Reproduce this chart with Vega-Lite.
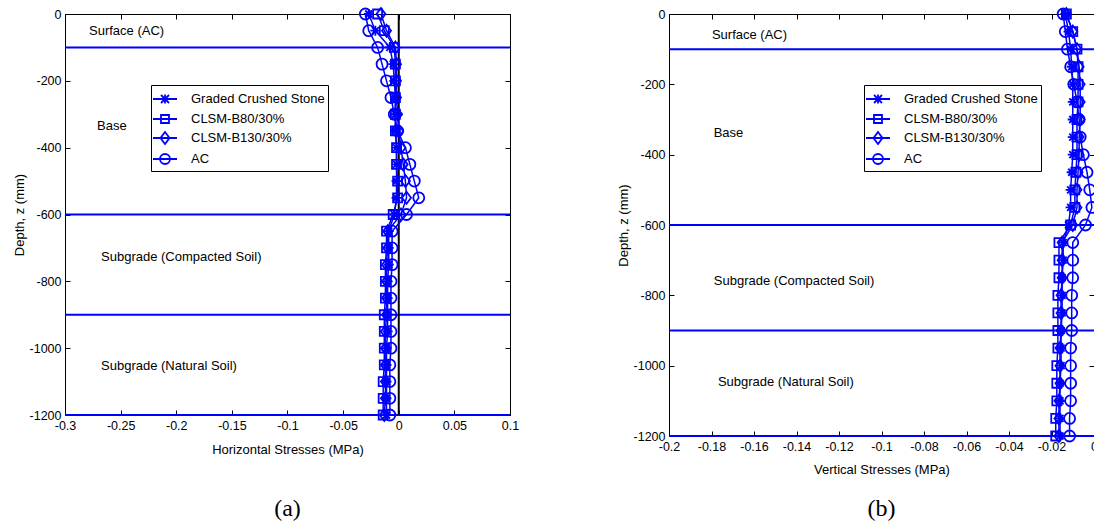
{
  "$schema": "https://vega.github.io/schema/vega-lite/v6.json",
  "padding": {"left": 12, "top": 3, "right": 0, "bottom": 0},
  "background": "white",
  "config": {
    "view": {"stroke": "black", "strokeWidth": 1},
    "font": "Liberation Sans",
    "axis": {"labelFont": "Liberation Sans", "labelFontSize": 12.5, "labelColor": "black", "titleFont": "Liberation Sans", "titleFontSize": 13, "titleFontWeight": "normal", "titleColor": "black", "tickColor": "black", "tickSize": -5, "tickWidth": 1, "grid": false, "domain": false, "labelFlush": false, "labelOverlap": false, "labelPadding": 9}
  },
  "datasets": {
    "h": [
      {"series": "Graded Crushed Stone", "depth": 0, "stress": -0.027},
      {"series": "Graded Crushed Stone", "depth": -50, "stress": -0.021},
      {"series": "Graded Crushed Stone", "depth": -100, "stress": -0.008},
      {"series": "Graded Crushed Stone", "depth": -150, "stress": -0.005},
      {"series": "Graded Crushed Stone", "depth": -200, "stress": -0.004},
      {"series": "Graded Crushed Stone", "depth": -250, "stress": -0.003},
      {"series": "Graded Crushed Stone", "depth": -300, "stress": -0.003},
      {"series": "Graded Crushed Stone", "depth": -350, "stress": -0.003},
      {"series": "Graded Crushed Stone", "depth": -400, "stress": -0.002},
      {"series": "Graded Crushed Stone", "depth": -450, "stress": -0.002},
      {"series": "Graded Crushed Stone", "depth": -500, "stress": -0.002},
      {"series": "Graded Crushed Stone", "depth": -550, "stress": -0.002},
      {"series": "Graded Crushed Stone", "depth": -600, "stress": -0.004},
      {"series": "Graded Crushed Stone", "depth": -650, "stress": -0.009},
      {"series": "Graded Crushed Stone", "depth": -700, "stress": -0.009},
      {"series": "Graded Crushed Stone", "depth": -750, "stress": -0.009},
      {"series": "Graded Crushed Stone", "depth": -800, "stress": -0.010},
      {"series": "Graded Crushed Stone", "depth": -850, "stress": -0.010},
      {"series": "Graded Crushed Stone", "depth": -900, "stress": -0.010},
      {"series": "Graded Crushed Stone", "depth": -950, "stress": -0.010},
      {"series": "Graded Crushed Stone", "depth": -1000, "stress": -0.011},
      {"series": "Graded Crushed Stone", "depth": -1050, "stress": -0.011},
      {"series": "Graded Crushed Stone", "depth": -1100, "stress": -0.011},
      {"series": "Graded Crushed Stone", "depth": -1150, "stress": -0.011},
      {"series": "Graded Crushed Stone", "depth": -1200, "stress": -0.011},
      {"series": "CLSM-B80/30%", "depth": 0, "stress": -0.019},
      {"series": "CLSM-B80/30%", "depth": -50, "stress": -0.013},
      {"series": "CLSM-B80/30%", "depth": -100, "stress": -0.004},
      {"series": "CLSM-B80/30%", "depth": -150, "stress": -0.003},
      {"series": "CLSM-B80/30%", "depth": -200, "stress": -0.003},
      {"series": "CLSM-B80/30%", "depth": -250, "stress": -0.003},
      {"series": "CLSM-B80/30%", "depth": -300, "stress": -0.003},
      {"series": "CLSM-B80/30%", "depth": -350, "stress": -0.003},
      {"series": "CLSM-B80/30%", "depth": -400, "stress": -0.002},
      {"series": "CLSM-B80/30%", "depth": -450, "stress": -0.002},
      {"series": "CLSM-B80/30%", "depth": -500, "stress": -0.001},
      {"series": "CLSM-B80/30%", "depth": -550, "stress": -0.001},
      {"series": "CLSM-B80/30%", "depth": -600, "stress": -0.005},
      {"series": "CLSM-B80/30%", "depth": -650, "stress": -0.011},
      {"series": "CLSM-B80/30%", "depth": -700, "stress": -0.011},
      {"series": "CLSM-B80/30%", "depth": -750, "stress": -0.012},
      {"series": "CLSM-B80/30%", "depth": -800, "stress": -0.012},
      {"series": "CLSM-B80/30%", "depth": -850, "stress": -0.012},
      {"series": "CLSM-B80/30%", "depth": -900, "stress": -0.013},
      {"series": "CLSM-B80/30%", "depth": -950, "stress": -0.013},
      {"series": "CLSM-B80/30%", "depth": -1000, "stress": -0.013},
      {"series": "CLSM-B80/30%", "depth": -1050, "stress": -0.013},
      {"series": "CLSM-B80/30%", "depth": -1100, "stress": -0.014},
      {"series": "CLSM-B80/30%", "depth": -1150, "stress": -0.014},
      {"series": "CLSM-B80/30%", "depth": -1200, "stress": -0.014},
      {"series": "CLSM-B130/30%", "depth": 0, "stress": -0.016},
      {"series": "CLSM-B130/30%", "depth": -50, "stress": -0.011},
      {"series": "CLSM-B130/30%", "depth": -100, "stress": -0.003},
      {"series": "CLSM-B130/30%", "depth": -150, "stress": -0.002},
      {"series": "CLSM-B130/30%", "depth": -200, "stress": -0.002},
      {"series": "CLSM-B130/30%", "depth": -250, "stress": -0.002},
      {"series": "CLSM-B130/30%", "depth": -300, "stress": -0.001},
      {"series": "CLSM-B130/30%", "depth": -350, "stress": 0.000},
      {"series": "CLSM-B130/30%", "depth": -400, "stress": 0.002},
      {"series": "CLSM-B130/30%", "depth": -450, "stress": 0.004},
      {"series": "CLSM-B130/30%", "depth": -500, "stress": 0.006},
      {"series": "CLSM-B130/30%", "depth": -550, "stress": 0.007},
      {"series": "CLSM-B130/30%", "depth": -600, "stress": 0.002},
      {"series": "CLSM-B130/30%", "depth": -650, "stress": -0.010},
      {"series": "CLSM-B130/30%", "depth": -700, "stress": -0.010},
      {"series": "CLSM-B130/30%", "depth": -750, "stress": -0.011},
      {"series": "CLSM-B130/30%", "depth": -800, "stress": -0.011},
      {"series": "CLSM-B130/30%", "depth": -850, "stress": -0.011},
      {"series": "CLSM-B130/30%", "depth": -900, "stress": -0.011},
      {"series": "CLSM-B130/30%", "depth": -950, "stress": -0.012},
      {"series": "CLSM-B130/30%", "depth": -1000, "stress": -0.012},
      {"series": "CLSM-B130/30%", "depth": -1050, "stress": -0.012},
      {"series": "CLSM-B130/30%", "depth": -1100, "stress": -0.012},
      {"series": "CLSM-B130/30%", "depth": -1150, "stress": -0.012},
      {"series": "CLSM-B130/30%", "depth": -1200, "stress": -0.013},
      {"series": "AC", "depth": 0, "stress": -0.030},
      {"series": "AC", "depth": -50, "stress": -0.027},
      {"series": "AC", "depth": -100, "stress": -0.019},
      {"series": "AC", "depth": -150, "stress": -0.015},
      {"series": "AC", "depth": -200, "stress": -0.011},
      {"series": "AC", "depth": -250, "stress": -0.007},
      {"series": "AC", "depth": -300, "stress": -0.004},
      {"series": "AC", "depth": -350, "stress": -0.001},
      {"series": "AC", "depth": -400, "stress": 0.006},
      {"series": "AC", "depth": -450, "stress": 0.010},
      {"series": "AC", "depth": -500, "stress": 0.014},
      {"series": "AC", "depth": -550, "stress": 0.018},
      {"series": "AC", "depth": -600, "stress": 0.007},
      {"series": "AC", "depth": -650, "stress": -0.006},
      {"series": "AC", "depth": -700, "stress": -0.006},
      {"series": "AC", "depth": -750, "stress": -0.006},
      {"series": "AC", "depth": -800, "stress": -0.007},
      {"series": "AC", "depth": -850, "stress": -0.007},
      {"series": "AC", "depth": -900, "stress": -0.007},
      {"series": "AC", "depth": -950, "stress": -0.007},
      {"series": "AC", "depth": -1000, "stress": -0.007},
      {"series": "AC", "depth": -1050, "stress": -0.008},
      {"series": "AC", "depth": -1100, "stress": -0.008},
      {"series": "AC", "depth": -1150, "stress": -0.008},
      {"series": "AC", "depth": -1200, "stress": -0.008}
    ],
    "v": [
      {"series": "Graded Crushed Stone", "depth": 0, "stress": -0.0135},
      {"series": "Graded Crushed Stone", "depth": -50, "stress": -0.012},
      {"series": "Graded Crushed Stone", "depth": -100, "stress": -0.011},
      {"series": "Graded Crushed Stone", "depth": -150, "stress": -0.0105},
      {"series": "Graded Crushed Stone", "depth": -200, "stress": -0.010},
      {"series": "Graded Crushed Stone", "depth": -250, "stress": -0.010},
      {"series": "Graded Crushed Stone", "depth": -300, "stress": -0.010},
      {"series": "Graded Crushed Stone", "depth": -350, "stress": -0.010},
      {"series": "Graded Crushed Stone", "depth": -400, "stress": -0.010},
      {"series": "Graded Crushed Stone", "depth": -450, "stress": -0.0105},
      {"series": "Graded Crushed Stone", "depth": -500, "stress": -0.011},
      {"series": "Graded Crushed Stone", "depth": -550, "stress": -0.011},
      {"series": "Graded Crushed Stone", "depth": -600, "stress": -0.012},
      {"series": "Graded Crushed Stone", "depth": -650, "stress": -0.0145},
      {"series": "Graded Crushed Stone", "depth": -700, "stress": -0.0145},
      {"series": "Graded Crushed Stone", "depth": -750, "stress": -0.015},
      {"series": "Graded Crushed Stone", "depth": -800, "stress": -0.015},
      {"series": "Graded Crushed Stone", "depth": -850, "stress": -0.015},
      {"series": "Graded Crushed Stone", "depth": -900, "stress": -0.0155},
      {"series": "Graded Crushed Stone", "depth": -950, "stress": -0.0155},
      {"series": "Graded Crushed Stone", "depth": -1000, "stress": -0.0155},
      {"series": "Graded Crushed Stone", "depth": -1050, "stress": -0.016},
      {"series": "Graded Crushed Stone", "depth": -1100, "stress": -0.016},
      {"series": "Graded Crushed Stone", "depth": -1150, "stress": -0.016},
      {"series": "Graded Crushed Stone", "depth": -1200, "stress": -0.016},
      {"series": "CLSM-B80/30%", "depth": 0, "stress": -0.013},
      {"series": "CLSM-B80/30%", "depth": -50, "stress": -0.010},
      {"series": "CLSM-B80/30%", "depth": -100, "stress": -0.008},
      {"series": "CLSM-B80/30%", "depth": -150, "stress": -0.0075},
      {"series": "CLSM-B80/30%", "depth": -200, "stress": -0.0075},
      {"series": "CLSM-B80/30%", "depth": -250, "stress": -0.0075},
      {"series": "CLSM-B80/30%", "depth": -300, "stress": -0.008},
      {"series": "CLSM-B80/30%", "depth": -350, "stress": -0.008},
      {"series": "CLSM-B80/30%", "depth": -400, "stress": -0.008},
      {"series": "CLSM-B80/30%", "depth": -450, "stress": -0.0085},
      {"series": "CLSM-B80/30%", "depth": -500, "stress": -0.009},
      {"series": "CLSM-B80/30%", "depth": -550, "stress": -0.009},
      {"series": "CLSM-B80/30%", "depth": -600, "stress": -0.011},
      {"series": "CLSM-B80/30%", "depth": -650, "stress": -0.0165},
      {"series": "CLSM-B80/30%", "depth": -700, "stress": -0.0165},
      {"series": "CLSM-B80/30%", "depth": -750, "stress": -0.0165},
      {"series": "CLSM-B80/30%", "depth": -800, "stress": -0.017},
      {"series": "CLSM-B80/30%", "depth": -850, "stress": -0.017},
      {"series": "CLSM-B80/30%", "depth": -900, "stress": -0.017},
      {"series": "CLSM-B80/30%", "depth": -950, "stress": -0.017},
      {"series": "CLSM-B80/30%", "depth": -1000, "stress": -0.0175},
      {"series": "CLSM-B80/30%", "depth": -1050, "stress": -0.0175},
      {"series": "CLSM-B80/30%", "depth": -1100, "stress": -0.0175},
      {"series": "CLSM-B80/30%", "depth": -1150, "stress": -0.018},
      {"series": "CLSM-B80/30%", "depth": -1200, "stress": -0.018},
      {"series": "CLSM-B130/30%", "depth": 0, "stress": -0.013},
      {"series": "CLSM-B130/30%", "depth": -50, "stress": -0.010},
      {"series": "CLSM-B130/30%", "depth": -100, "stress": -0.008},
      {"series": "CLSM-B130/30%", "depth": -150, "stress": -0.007},
      {"series": "CLSM-B130/30%", "depth": -200, "stress": -0.0065},
      {"series": "CLSM-B130/30%", "depth": -250, "stress": -0.0065},
      {"series": "CLSM-B130/30%", "depth": -300, "stress": -0.0065},
      {"series": "CLSM-B130/30%", "depth": -350, "stress": -0.007},
      {"series": "CLSM-B130/30%", "depth": -400, "stress": -0.007},
      {"series": "CLSM-B130/30%", "depth": -450, "stress": -0.0075},
      {"series": "CLSM-B130/30%", "depth": -500, "stress": -0.008},
      {"series": "CLSM-B130/30%", "depth": -550, "stress": -0.008},
      {"series": "CLSM-B130/30%", "depth": -600, "stress": -0.010},
      {"series": "CLSM-B130/30%", "depth": -650, "stress": -0.015},
      {"series": "CLSM-B130/30%", "depth": -700, "stress": -0.015},
      {"series": "CLSM-B130/30%", "depth": -750, "stress": -0.015},
      {"series": "CLSM-B130/30%", "depth": -800, "stress": -0.0155},
      {"series": "CLSM-B130/30%", "depth": -850, "stress": -0.0155},
      {"series": "CLSM-B130/30%", "depth": -900, "stress": -0.0155},
      {"series": "CLSM-B130/30%", "depth": -950, "stress": -0.016},
      {"series": "CLSM-B130/30%", "depth": -1000, "stress": -0.016},
      {"series": "CLSM-B130/30%", "depth": -1050, "stress": -0.016},
      {"series": "CLSM-B130/30%", "depth": -1100, "stress": -0.0165},
      {"series": "CLSM-B130/30%", "depth": -1150, "stress": -0.0165},
      {"series": "CLSM-B130/30%", "depth": -1200, "stress": -0.0165},
      {"series": "AC", "depth": 0, "stress": -0.0145},
      {"series": "AC", "depth": -50, "stress": -0.0135},
      {"series": "AC", "depth": -100, "stress": -0.0125},
      {"series": "AC", "depth": -150, "stress": -0.011},
      {"series": "AC", "depth": -200, "stress": -0.0095},
      {"series": "AC", "depth": -250, "stress": -0.008},
      {"series": "AC", "depth": -300, "stress": -0.007},
      {"series": "AC", "depth": -350, "stress": -0.0065},
      {"series": "AC", "depth": -400, "stress": -0.005},
      {"series": "AC", "depth": -450, "stress": -0.0033},
      {"series": "AC", "depth": -500, "stress": -0.002},
      {"series": "AC", "depth": -550, "stress": -0.001},
      {"series": "AC", "depth": -600, "stress": -0.004},
      {"series": "AC", "depth": -650, "stress": -0.010},
      {"series": "AC", "depth": -700, "stress": -0.010},
      {"series": "AC", "depth": -750, "stress": -0.010},
      {"series": "AC", "depth": -800, "stress": -0.0105},
      {"series": "AC", "depth": -850, "stress": -0.0105},
      {"series": "AC", "depth": -900, "stress": -0.0105},
      {"series": "AC", "depth": -950, "stress": -0.011},
      {"series": "AC", "depth": -1000, "stress": -0.011},
      {"series": "AC", "depth": -1050, "stress": -0.011},
      {"series": "AC", "depth": -1100, "stress": -0.011},
      {"series": "AC", "depth": -1150, "stress": -0.0115},
      {"series": "AC", "depth": -1200, "stress": -0.0115}
    ],
    "layers": [{"depth": -100}, {"depth": -600}, {"depth": -900}, {"depth": -1200}],
    "zero": [{"stress": 0}],
    "labelsH": [
      {"label": "Surface (AC)", "stress": -0.2784, "depth": -51},
      {"label": "Base", "stress": -0.2712, "depth": -335},
      {"label": "Subgrade (Compacted Soil)", "stress": -0.2676, "depth": -727},
      {"label": "Subgrade (Natural Soil)", "stress": -0.2676, "depth": -1052}
    ],
    "labelsV": [
      {"label": "Surface (AC)", "stress": -0.1798, "depth": -60},
      {"label": "Base", "stress": -0.179, "depth": -337},
      {"label": "Subgrade (Compacted Soil)", "stress": -0.1789, "depth": -759},
      {"label": "Subgrade (Natural Soil)", "stress": -0.177, "depth": -1046}
    ]
  },
  "spacing": 96,
  "resolve": {"scale": {"shape": "independent"}, "legend": {"shape": "independent"}},
  "hconcat": [
    {
      "width": 445,
      "height": 401,
      "title": {"text": "(a)", "orient": "bottom", "font": "Liberation Serif", "fontSize": 24, "fontWeight": "normal", "color": "black", "offset": 40},
      "resolve": {"scale": {"shape": "independent"}, "axis": {"x": "independent", "y": "independent"}},
      "layer": [
        {
          "data": {"name": "layers"},
          "mark": {"type": "rule", "color": "#0000ff", "strokeWidth": 2},
          "encoding": {"y": {"field": "depth", "type": "quantitative", "scale": {"domain": [-1200, 0], "nice": false, "zero": false}, "axis": null}}
        },
        {
          "data": {"name": "zero"},
          "mark": {"type": "rule", "color": "black", "strokeWidth": 2},
          "encoding": {"x": {"field": "stress", "type": "quantitative", "scale": {"domain": [-0.3, 0.1], "nice": false, "zero": false}, "axis": null}}
        },
        {
          "data": {"name": "labelsH"},
          "mark": {"type": "text", "align": "left", "baseline": "middle", "font": "Liberation Sans", "fontSize": 13, "color": "black"},
          "encoding": {
            "x": {"field": "stress", "type": "quantitative", "scale": {"domain": [-0.3, 0.1], "nice": false, "zero": false}, "axis": null},
            "y": {"field": "depth", "type": "quantitative", "scale": {"domain": [-1200, 0], "nice": false, "zero": false}, "axis": null},
            "text": {"field": "label"}
          }
        },
        {
          "data": {"name": "h"},
          "mark": {"type": "line", "color": "#0000ff", "strokeWidth": 1.5},
          "encoding": {
            "x": {"field": "stress", "type": "quantitative", "scale": {"domain": [-0.3, 0.1], "nice": false, "zero": false},
                  "axis": {"orient": "bottom", "values": [-0.3, -0.25, -0.2, -0.15, -0.1, -0.05, 0, 0.05, 0.1], "labelExpr": "toString(datum.value)", "title": "Horizontal Stresses (MPa)", "titlePadding": 12}},
            "y": {"field": "depth", "type": "quantitative", "scale": {"domain": [-1200, 0], "nice": false, "zero": false},
                  "axis": {"orient": "left", "values": [0, -200, -400, -600, -800, -1000, -1200], "labelExpr": "toString(datum.value)", "title": "Depth, z (mm)", "titlePadding": 3}},
            "detail": {"field": "series"},
            "order": {"field": "depth", "type": "quantitative", "sort": "descending"}
          }
        },
        {
          "data": {"name": "h"},
          "mark": {"type": "point", "filled": false, "color": "#0000ff", "strokeWidth": 1.8, "size": 100, "opacity": 1},
          "encoding": {
            "x": {"field": "stress", "type": "quantitative", "scale": {"domain": [-0.3, 0.1], "nice": false, "zero": false},
                  "axis": {"orient": "top", "values": [-0.3, -0.25, -0.2, -0.15, -0.1, -0.05, 0, 0.05, 0.1], "labels": false, "title": null}},
            "y": {"field": "depth", "type": "quantitative", "scale": {"domain": [-1200, 0], "nice": false, "zero": false},
                  "axis": {"orient": "right", "values": [0, -200, -400, -600, -800, -1000, -1200], "labels": false, "title": null}},
            "shape": {"field": "series", "type": "nominal",
                      "scale": {"domain": ["Graded Crushed Stone", "CLSM-B80/30%", "CLSM-B130/30%", "AC"],
                                "range": ["M-1,0H1M0,-1V1M-0.7,-0.7L0.7,0.7M-0.7,0.7L0.7,-0.7", "M-0.9,-0.9H0.9V0.9H-0.9Z", "M0,-1.2L0.9,0L0,1.2L-0.9,0Z", "M1.1,0A1.1,1.1 0 1,1 -1.1,0A1.1,1.1 0 1,1 1.1,0Z"]},
                      "legend": null}
          }
        },
        {
          "data": {"name": "h"},
          "mark": {"type": "point", "filled": false, "color": "#0000ff", "strokeWidth": 1.5, "opacity": 0},
          "encoding": {
            "x": {"field": "stress", "type": "quantitative", "scale": {"domain": [-0.3, 0.1], "nice": false, "zero": false}, "axis": null},
            "y": {"field": "depth", "type": "quantitative", "scale": {"domain": [-1200, 0], "nice": false, "zero": false}, "axis": null},
            "shape": {"field": "series", "type": "nominal",
                      "scale": {"domain": ["Graded Crushed Stone", "CLSM-B80/30%", "CLSM-B130/30%", "AC"],
                                "range": ["M-1.2,0H1.2M-0.4,-0.4L0.4,0.4M-0.4,0.4L0.4,-0.4M0,-0.45V0.45", "M-1.2,0H1.2M-0.4,-0.4H0.4V0.4H-0.4Z", "M-1.2,0H1.2M0,-0.6L0.45,0L0,0.6L-0.45,0Z", "M-1.2,0H1.2M0.5,0A0.5,0.5 0 1,1 -0.5,0A0.5,0.5 0 1,1 0.5,0Z"]},
                      "legend": {"title": null, "orient": "none", "legendX": 86, "legendY": 71, "symbolSize": 400, "symbolStrokeColor": "#0000ff", "symbolStrokeWidth": 1.8, "symbolOpacity": 1, "labelFont": "Liberation Sans", "labelFontSize": 13, "labelColor": "black", "labelOffset": 15, "rowPadding": 0, "padding": 3, "strokeColor": "black", "fillColor": "white"}}
          }
        }
      ]
    },
    {
      "width": 425,
      "height": 422,
      "title": {"text": "(b)", "orient": "bottom", "font": "Liberation Serif", "fontSize": 24, "fontWeight": "normal", "color": "black", "offset": 20},
      "resolve": {"scale": {"shape": "independent"}, "axis": {"x": "independent", "y": "independent"}},
      "layer": [
        {
          "data": {"name": "layers"},
          "mark": {"type": "rule", "color": "#0000ff", "strokeWidth": 2},
          "encoding": {"y": {"field": "depth", "type": "quantitative", "scale": {"domain": [-1200, 0], "nice": false, "zero": false}, "axis": null}}
        },
        {
          "data": {"name": "labelsV"},
          "mark": {"type": "text", "align": "left", "baseline": "middle", "font": "Liberation Sans", "fontSize": 13, "color": "black"},
          "encoding": {
            "x": {"field": "stress", "type": "quantitative", "scale": {"domain": [-0.2, 0], "nice": false, "zero": false}, "axis": null},
            "y": {"field": "depth", "type": "quantitative", "scale": {"domain": [-1200, 0], "nice": false, "zero": false}, "axis": null},
            "text": {"field": "label"}
          }
        },
        {
          "data": {"name": "v"},
          "mark": {"type": "line", "color": "#0000ff", "strokeWidth": 1.5},
          "encoding": {
            "x": {"field": "stress", "type": "quantitative", "scale": {"domain": [-0.2, 0], "nice": false, "zero": false},
                  "axis": {"orient": "bottom", "values": [-0.2, -0.18, -0.16, -0.14, -0.12, -0.1, -0.08, -0.06, -0.04, -0.02, 0], "labelExpr": "toString(datum.value)", "title": "Vertical Stresses (MPa)", "titlePadding": 11}},
            "y": {"field": "depth", "type": "quantitative", "scale": {"domain": [-1200, 0], "nice": false, "zero": false},
                  "axis": {"orient": "left", "values": [0, -200, -400, -600, -800, -1000, -1200], "labelExpr": "toString(datum.value)", "title": "Depth, z (mm)", "titlePadding": 3}},
            "detail": {"field": "series"},
            "order": {"field": "depth", "type": "quantitative", "sort": "descending"}
          }
        },
        {
          "data": {"name": "v"},
          "mark": {"type": "point", "filled": false, "color": "#0000ff", "strokeWidth": 1.8, "size": 100, "opacity": 1},
          "encoding": {
            "x": {"field": "stress", "type": "quantitative", "scale": {"domain": [-0.2, 0], "nice": false, "zero": false},
                  "axis": {"orient": "top", "values": [-0.2, -0.18, -0.16, -0.14, -0.12, -0.1, -0.08, -0.06, -0.04, -0.02, 0], "labels": false, "title": null}},
            "y": {"field": "depth", "type": "quantitative", "scale": {"domain": [-1200, 0], "nice": false, "zero": false},
                  "axis": {"orient": "right", "values": [0, -200, -400, -600, -800, -1000, -1200], "labels": false, "title": null}},
            "shape": {"field": "series", "type": "nominal",
                      "scale": {"domain": ["Graded Crushed Stone", "CLSM-B80/30%", "CLSM-B130/30%", "AC"],
                                "range": ["M-1,0H1M0,-1V1M-0.7,-0.7L0.7,0.7M-0.7,0.7L0.7,-0.7", "M-0.9,-0.9H0.9V0.9H-0.9Z", "M0,-1.2L0.9,0L0,1.2L-0.9,0Z", "M1.1,0A1.1,1.1 0 1,1 -1.1,0A1.1,1.1 0 1,1 1.1,0Z"]},
                      "legend": null}
          }
        },
        {
          "data": {"name": "v"},
          "mark": {"type": "point", "filled": false, "color": "#0000ff", "strokeWidth": 1.5, "opacity": 0},
          "encoding": {
            "x": {"field": "stress", "type": "quantitative", "scale": {"domain": [-0.2, 0], "nice": false, "zero": false}, "axis": null},
            "y": {"field": "depth", "type": "quantitative", "scale": {"domain": [-1200, 0], "nice": false, "zero": false}, "axis": null},
            "shape": {"field": "series", "type": "nominal",
                      "scale": {"domain": ["Graded Crushed Stone", "CLSM-B80/30%", "CLSM-B130/30%", "AC"],
                                "range": ["M-1.2,0H1.2M-0.4,-0.4L0.4,0.4M-0.4,0.4L0.4,-0.4M0,-0.45V0.45", "M-1.2,0H1.2M-0.4,-0.4H0.4V0.4H-0.4Z", "M-1.2,0H1.2M0,-0.6L0.45,0L0,0.6L-0.45,0Z", "M-1.2,0H1.2M0.5,0A0.5,0.5 0 1,1 -0.5,0A0.5,0.5 0 1,1 0.5,0Z"]},
                      "legend": {"title": null, "orient": "none", "legendX": 195, "legendY": 71, "symbolSize": 400, "symbolStrokeColor": "#0000ff", "symbolStrokeWidth": 1.8, "symbolOpacity": 1, "labelFont": "Liberation Sans", "labelFontSize": 13, "labelColor": "black", "labelOffset": 15, "rowPadding": 0, "padding": 3, "strokeColor": "black", "fillColor": "white"}}
          }
        }
      ]
    }
  ]
}
